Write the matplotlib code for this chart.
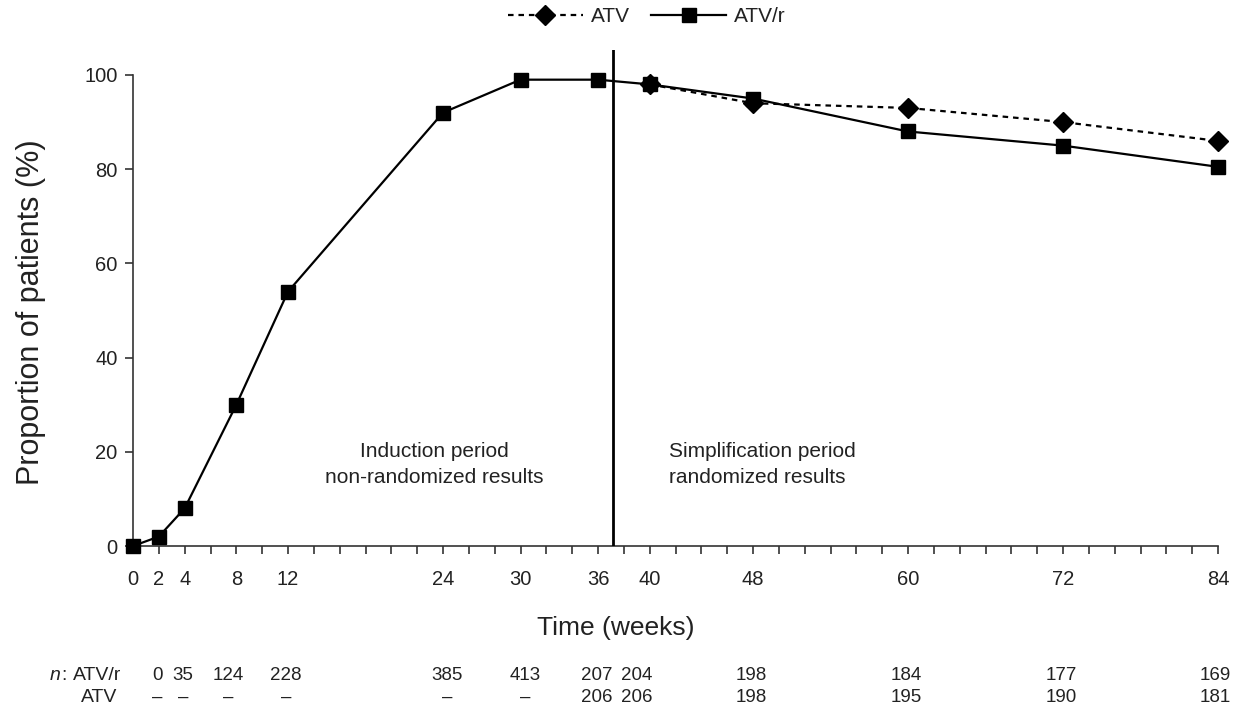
import matplotlib
matplotlib.use("Agg")
import matplotlib.pyplot as plt
import matplotlib.transforms as mtransforms
import numpy as np

plt.rcParams['font.family'] = ['Liberation Sans', 'DejaVu Sans']

# ---- data ----
weeks_atvr = [0, 2, 4, 8, 12, 24, 30, 36, 40, 48, 60, 72, 84]
pct_atvr = [0, 2, 8, 30, 54, 92, 99, 99, 98, 95, 88, 85, 80.5]
weeks_atv = [40, 48, 60, 72, 84]
pct_atv = [98, 94, 93, 90, 86]

xtick_weeks = [0, 2, 4, 8, 12, 24, 30, 36, 40, 48, 60, 72, 84]
ytick_vals = [0, 20, 40, 60, 80, 100]
randomization_week = 37.15

n_atvr = ['0', '35', '124', '228', '385', '413', '207', '204', '198', '184', '177', '169']
n_atv = ['\u2013', '\u2013', '\u2013', '\u2013', '\u2013', '\u2013', '206', '206', '198', '195', '190', '181']
# label x positions (weeks) for the n table
n_label_x = [1.86, 3.87, 7.35, 11.85, 24.3, 30.35, 35.9, 39.0, 47.9, 59.9, 71.9, 83.8]

TXT = '#222222'

fig = plt.figure(figsize=(12.34, 7.10), dpi=100)
ax = fig.add_axes([133/1234, 1 - 546/710, (1218 - 133)/1234, 496/710])

ax.plot(weeks_atv, pct_atv, color='black', lw=1.6, linestyle=(0, (2.5, 2.2)),
        marker='D', markersize=10, clip_on=False, zorder=4, label='ATV')
ax.plot(weeks_atvr, pct_atvr, color='black', lw=1.6, linestyle='-',
        marker='s', markersize=10, clip_on=False, zorder=5, label='ATV/r')

ax.axvline(randomization_week, color='black', lw=2.0, zorder=3)

ax.set_xlim(0, 84)
ax.set_ylim(0, 105.3)
ax.spines['top'].set_visible(False)
ax.spines['right'].set_visible(False)
ax.spines['left'].set_bounds(0, 100)
for s in ('left', 'bottom'):
    ax.spines[s].set_linewidth(1.2)
    ax.spines[s].set_color('#333333')

ax.set_xticks(xtick_weeks)
ax.set_xticklabels([str(w) for w in xtick_weeks])
ax.set_xticks(np.arange(0, 85, 2), minor=True)
ax.set_yticks(ytick_vals)
ax.tick_params(axis='x', which='both', length=6, width=1.2, color='#333333',
               labelsize=14.5, labelcolor=TXT, pad=11)
ax.tick_params(axis='y', which='both', length=6, width=1.2, color='#333333',
               labelsize=14.5, labelcolor=TXT, pad=5)

ax.set_xlabel('Time (weeks)', fontsize=19, color=TXT)
ax.xaxis.set_label_coords(0.445, -0.142)
ax.set_ylabel('Proportion of patients (%)', fontsize=22, color=TXT)
ax.yaxis.set_label_coords(-0.08, 0.472)

ax.text(23.3, 17.3, 'Induction period\nnon-randomized results', ha='center', va='center',
        fontsize=15, color=TXT, linespacing=1.45)
ax.text(41.5, 17.3, 'Simplification period\nrandomized results', ha='left', va='center',
        fontsize=15, color=TXT, linespacing=1.45)

# n table
trans = mtransforms.blended_transform_factory(ax.transData, fig.transFigure)
y1 = 1 - 676/710
y2 = 1 - 697/710
fig.text(61/1234, y1, 'n', style='italic', ha='right', va='center', fontsize=14, color=TXT)
fig.text(61/1234, y1, ':', ha='left', va='center', fontsize=14, color=TXT)
fig.text(121/1234, y1, 'ATV/r', ha='right', va='center', fontsize=14, color=TXT)
fig.text(117/1234, y2, 'ATV', ha='right', va='center', fontsize=14, color=TXT)
for x, a, b in zip(n_label_x, n_atvr, n_atv):
    ax.text(x, y1, a, transform=trans, ha='center', va='center', fontsize=13.5, color=TXT, clip_on=False)
    ax.text(x, y2, b, transform=trans, ha='center', va='center', fontsize=13.5, color=TXT, clip_on=False)

leg = fig.legend(loc='center', bbox_to_anchor=(647/1234, 1 - 17/710), ncol=2, frameon=False,
                 fontsize=15, handlelength=3.6, handletextpad=0.4, columnspacing=1.0)
for t in leg.get_texts():
    t.set_color(TXT)

fig.savefig('out.png', dpi=100)
